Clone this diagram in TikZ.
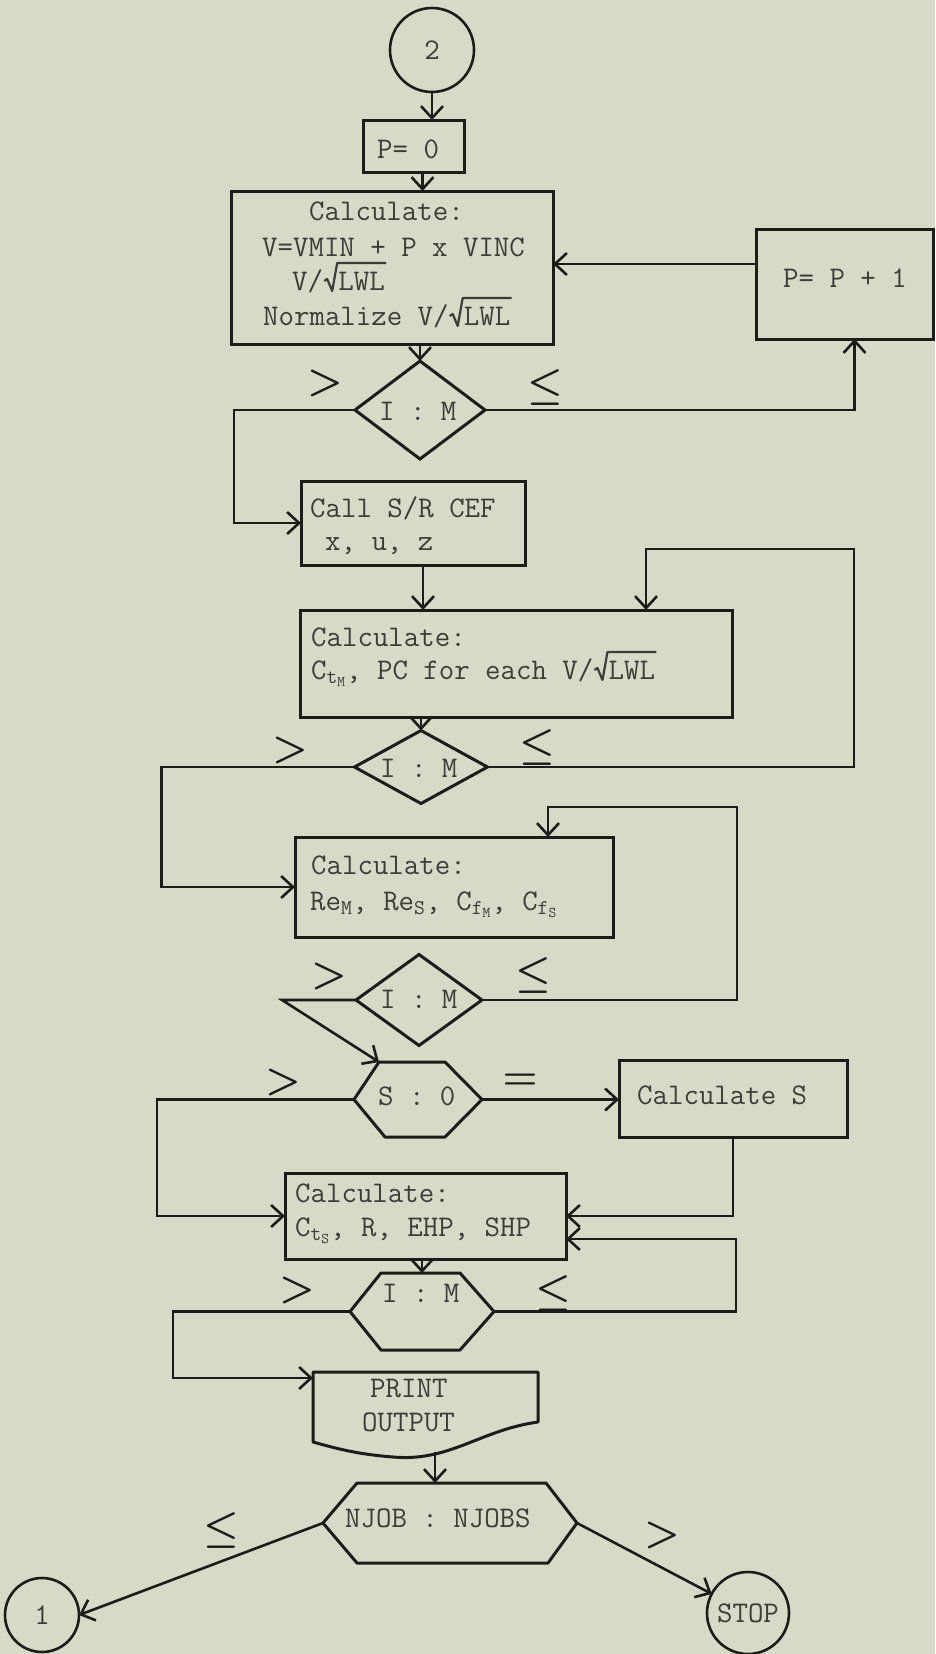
\RequirePackage{fix-cm}
\documentclass[tikz,border=0pt]{standalone}
\usetikzlibrary{arrows.meta,shapes.geometric}
\definecolor{paper}{RGB}{216,218,200}
\definecolor{ink}{RGB}{28,28,26}
\definecolor{typ}{RGB}{60,60,56}
\newcommand{\lwl}{\tikz[baseline=0pt,x=1pt,y=1pt]{\draw[draw=typ,line width=2.2pt,line join=round] (0,9) -- (3,11) -- (8,-1) -- (13,27) -- (62,27); \node[anchor=base west,inner sep=0pt,text=typ] (lw) at (14,0) {LWL};}}
\begin{document}
\begin{tikzpicture}[x=1pt,y=-1pt,
  shapeln/.style={draw=ink,line width=3pt,line join=round},
  box/.style={rectangle,draw=ink,line width=3pt,inner sep=0pt,outer sep=0pt},
  dia/.style={diamond,draw=ink,line width=3pt,inner sep=0pt,outer sep=0pt},
  circ/.style={circle,draw=ink,line width=2.6pt,inner sep=0pt,outer sep=0pt},
  base/.style={rectangle,draw=none,inner sep=0pt,outer sep=0pt},
  txt/.style={inner sep=0pt,text=typ,font=\fontsize{30}{36}\selectfont\ttfamily},
  rel/.style={inner sep=0pt,text=ink,font=\fontsize{40}{40}\selectfont\boldmath},
  conn/.style={draw=ink,line width=2.6pt,-{Straight Barb[length=12pt,width=22pt]}},
]
\fill[paper] (0,0) rectangle (935,1654);
\useasboundingbox (0,0) rectangle (935,1654);

% ---- nodes ----
\node[circ,txt,minimum size=84pt] (c2) at (432,50) {2};
\node[box,minimum width=101pt,minimum height=52pt] (p0) at (413.5,146) {};
\node[box,minimum width=322pt,minimum height=153pt] (calc1) at (392,267.5) {};
\node[box,minimum width=177pt,minimum height=110pt] (p1) at (844.5,284) {};
\node[dia,minimum width=130pt,minimum height=98pt] (d1) at (420,410) {};
\node[box,minimum width=224pt,minimum height=84pt] (callbox) at (413,523) {};
\node[box,minimum width=432pt,minimum height=107pt] (calc2) at (516,663.5) {};
\node[dia,minimum width=133pt,minimum height=73pt] (d2) at (421,767) {};
\node[box,minimum width=318pt,minimum height=100pt] (calc3) at (454,887) {};
\node[dia,minimum width=126pt,minimum height=91pt] (d3) at (419,1000) {};
\node[base,minimum width=128pt,minimum height=75pt] (so) at (418,1099.5) {};
\node[box,minimum width=228pt,minimum height=77pt] (calcS) at (733,1098.5) {};
\node[box,minimum width=281pt,minimum height=86pt] (calc4) at (425.5,1216) {};
\node[base,minimum width=144pt,minimum height=77pt] (d4) at (422,1311.5) {};
\node[base,minimum width=225pt,minimum height=80pt] (prt) at (425.5,1412) {};
\node[base,minimum width=254pt,minimum height=80pt] (njob) at (450,1523) {};
\node[circ,txt,minimum size=74pt] (c1) at (42,1615) {1};
\node[circ,txt,minimum size=82pt] (stop) at (748,1613) {STOP};

% hexagons and document shape
\draw[shapeln] ([xshift=25pt]so.north west) -- ([xshift=-37pt]so.north east) -- (so.east) -- ([xshift=-37pt]so.south east) -- ([xshift=31pt]so.south west) -- (so.west) -- cycle;
\draw[shapeln] ([xshift=31pt]d4.north west) -- ([xshift=-34pt]d4.north east) -- (d4.east) -- ([xshift=-34pt]d4.south east) -- ([xshift=31pt]d4.south west) -- (d4.west) -- cycle;
\draw[shapeln] ([xshift=34pt]njob.north west) -- ([xshift=-31pt]njob.north east) -- (njob.east) -- ([xshift=-29pt]njob.south east) -- ([xshift=34pt]njob.south west) -- (njob.west) -- cycle;
\draw[shapeln] (313,1372) -- (538,1372) -- (538,1422) .. controls (480,1430) and (450,1462) .. (393,1457) .. controls (355,1454) and (335,1448) .. (313,1442) -- cycle;

% ---- texts ----
\node[txt,anchor=base west] (p0t) at (377,158) {P= 0};
\node[txt,anchor=base west] (c1a) at (309,220) {Calculate:};
\node[txt,anchor=base west] (c1b) at (262,256) {V=VMIN + P x VINC};
\node[txt,anchor=base west] (c1c) at (292,290) {V/\lwl};
\node[txt,anchor=base west] (c1d) at (263,325) {Normalize V/\lwl};
\node[txt,anchor=base west] (p1t) at (783,287) {P= P + 1};
\node[txt,anchor=base west] (d1t) at (379,420) {I : M};
\node[txt,anchor=base west] (cba) at (310,517) {Call S/R CEF};
\node[txt,anchor=base west] (cbb) at (325,550) {x, u, z};
\node[txt,anchor=base west] (c2a) at (311,646) {Calculate:};
\node[txt,anchor=base west] (c2b) at (311,679) {C$_{\mathtt{t}_{\mathtt{M}}}$, PC for each V/\lwl};
\node[txt,anchor=base west] (d2t) at (380,777) {I : M};
\node[txt,anchor=base west] (c3a) at (311,874) {Calculate:};
\node[txt,anchor=base west] (c3b) at (310,910) {Re$_{\mathtt{M}}$, Re$_{\mathtt{S}}$, C$_{\mathtt{f}_{\mathtt{M}}}$, C$_{\mathtt{f}_{\mathtt{S}}}$};
\node[txt,anchor=base west] (d3t) at (380,1008) {I : M};
\node[txt,anchor=base west] (sot) at (378,1105) {S : 0};
\node[txt,anchor=base west] (cst) at (637,1104) {Calculate S};
\node[txt,anchor=base west] (c4a) at (295,1202) {Calculate:};
\node[txt,anchor=base west] (c4b) at (295,1236) {C$_{\mathtt{t}_{\mathtt{S}}}$, R, EHP, SHP};
\node[txt,anchor=base west] (d4t) at (382,1302) {I : M};
\node[txt,anchor=base west] (pra) at (370,1397) {PRINT};
\node[txt,anchor=base west] (prb) at (362,1431) {OUTPUT};
\node[txt,anchor=base west] (njt) at (345,1527) {NJOB : NJOBS};

% ---- relation labels ----
\node[rel] (g1) at (325,383) {$>$};
\node[rel] (l1) at (545,387) {$\leq$};
\node[rel] (g2) at (290,750) {$>$};
\node[rel] (l2) at (537,747) {$\leq$};
\node[rel] (g3) at (329,976) {$>$};
\node[rel] (l3) at (533,975) {$\leq$};
\node[rel] (g4) at (283,1082) {$>$};
\node[rel] (e4) at (520,1082) {$=$};
\node[rel] (g5) at (297,1290) {$>$};
\node[rel] (l5) at (553,1293) {$\leq$};
\node[rel] (l6) at (221,1530) {$\leq$};
\node[rel] (g6) at (662,1535) {$>$};

% ---- connectors ----
\draw[conn] (c2.south) -- (c2.south |- p0.north);
\coordinate (p0o) at ([xshift=9pt]p0.south);
\draw[conn] (p0o) -- (p0o |- calc1.north);
\draw[conn] (d1.north |- calc1.south) -- (d1.north);
\coordinate (p1in) at ([xshift=10pt]p1.south);
\draw[conn] (d1.east) -| (p1in);
\coordinate (p1out) at ([yshift=20pt]p1.west);
\draw[conn] (p1out) -- (p1out -| calc1.east);
\draw[conn] (d1.west) -- ++(-121,0) |- (callbox.west);
\coordinate (cbo) at ([xshift=10pt]callbox.south);
\draw[conn] (cbo) -- (cbo |- calc2.north);
\draw[conn] (d2.north |- calc2.south) -- (d2.north);
\coordinate (lp2) at (646,549);
\draw[conn] (d2.east) -| (854,549) -- (lp2) -- (lp2 |- calc2.north);
\draw[conn] (d2.west) -- ++(-193,0) |- (calc3.west);
\coordinate (lp3) at (548,807);
\draw[conn] (d3.east) -| (737,807) -- (lp3) -- (lp3 |- calc3.north);
\coordinate (soin) at ([xshift=25pt]so.north west);
\draw[conn] (d3.west) -- ++(-74,0) -- (soin);
\draw[conn] (so.east) -- (so.east -| calcS.west);
\draw[conn] (so.west) -- ++(-197,0) |- (calc4.west);
\draw[conn] (calcS.south) |- (calc4.east);
\draw[conn] (d4.north |- calc4.south) -- (d4.north);
\coordinate (c4in) at ([yshift=-23pt]calc4.east);
\draw[conn] (d4.east) -| (736,1239) -- (c4in);
\coordinate (prin) at ([yshift=-6pt]prt.north west);
\draw[conn] (d4.west) -- ++(-177,0) |- (prin);
\coordinate (pro) at ([xshift=9.5pt]prt.south);
\draw[conn] (pro) -- (pro |- njob.north);
\draw[conn] (njob.west) -- (c1.east);
\draw[conn] (njob.east) -- (stop);
\end{tikzpicture}
\end{document}
